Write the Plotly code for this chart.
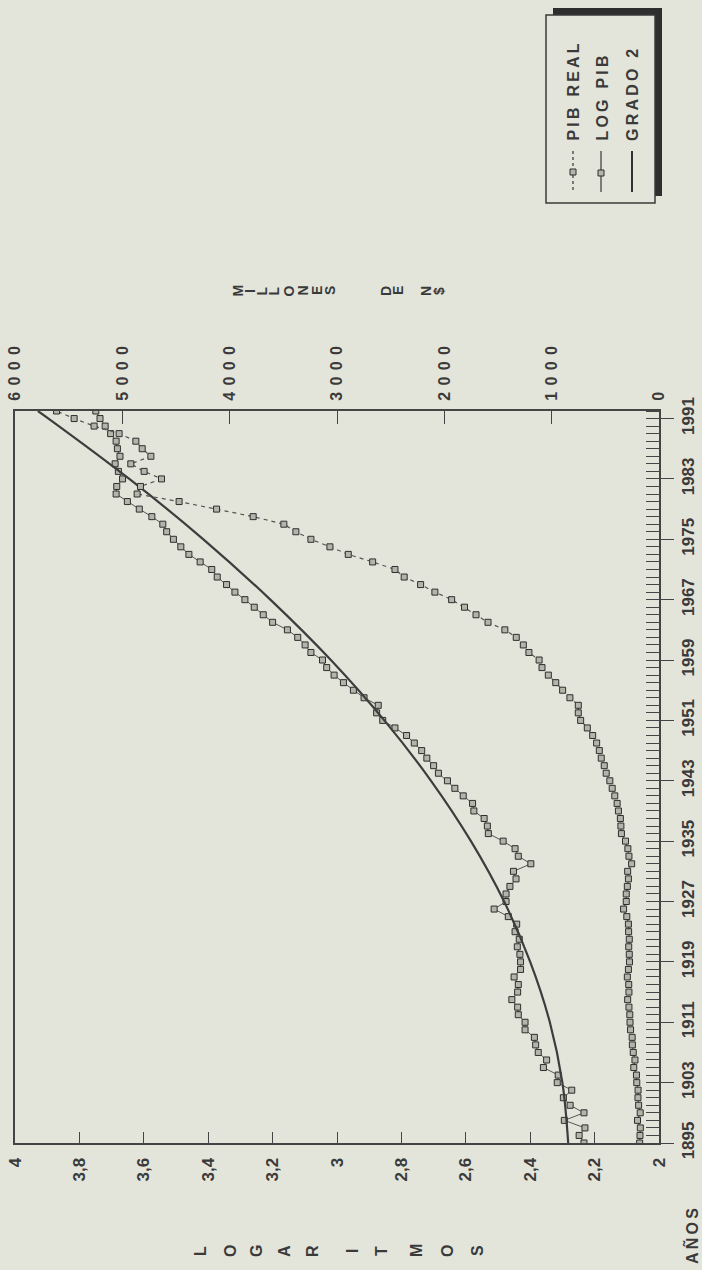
import plotly.graph_objects as go

# ---------------- data ----------------
years = list(range(1895, 1993))

log_pib = [
    2.233, 2.248, 2.230, 2.294, 2.233, 2.276, 2.297, 2.271, 2.316, 2.313,   # 1895-1904
    2.359, 2.349, 2.375, 2.383, 2.387, 2.416, 2.416, 2.437, 2.439, 2.457,   # 1905-1914
    2.439, 2.437, 2.450, 2.430, 2.430, 2.432, 2.440, 2.434, 2.447, 2.442,   # 1915-1924
    2.468, 2.512, 2.475, 2.475, 2.463, 2.444, 2.452, 2.398, 2.437, 2.447,   # 1925-1934
    2.484, 2.530, 2.533, 2.543, 2.575, 2.579, 2.608, 2.634, 2.657, 2.685,   # 1935-1944
    2.700, 2.721, 2.737, 2.760, 2.784, 2.820, 2.858, 2.877, 2.872, 2.916,   # 1945-1954
    2.949, 2.980, 3.009, 3.032, 3.045, 3.081, 3.099, 3.122, 3.154, 3.200,   # 1955-1964
    3.229, 3.257, 3.286, 3.317, 3.343, 3.372, 3.389, 3.425, 3.460, 3.485,   # 1965-1974
    3.508, 3.529, 3.541, 3.575, 3.614, 3.651, 3.686, 3.684, 3.666, 3.679,   # 1975-1984
    3.689, 3.674, 3.682, 3.686, 3.703, 3.720, 3.736, 3.749,                 # 1985-1992
]

pib_real = [
    180, 177, 174, 200, 175, 190, 196, 195, 207, 210,          # 1895-1904
    235, 224, 240, 248, 250, 265, 270, 272, 280, 292,          # 1905-1914
    280, 282, 295, 285, 275, 277, 282, 277, 283, 285,          # 1915-1924
    300, 330, 305, 305, 295, 285, 292, 255, 280, 290,          # 1925-1934
    312, 350, 355, 360, 378, 390, 412, 436, 458, 492,          # 1935-1944
    510, 538, 556, 581, 618, 668, 730, 752, 752, 830,          # 1945-1954
    898, 962, 1031, 1090, 1117, 1212, 1264, 1330, 1436, 1593,  # 1955-1964
    1705, 1812, 1932, 2088, 2221, 2374, 2460, 2668, 2895, 3066,  # 1965-1974
    3243, 3383, 3495, 3781, 4122, 4471, 4862, 4831, 4635, 4797,  # 1975-1984
    4921, 4734, 4815, 4874, 5030, 5263, 5449, 5613,              # 1985-1992
]

grado2_years = [1895, 1903, 1911, 1919, 1927, 1935, 1943, 1951, 1959,
                1967, 1975, 1983, 1991, 1992]
grado2_vals = [2.282, 2.300, 2.339, 2.400, 2.481, 2.584, 2.708, 2.853, 3.019,
               3.207, 3.415, 3.645, 3.896, 3.929]

year_ticks = [1895, 1903, 1911, 1919, 1927, 1935, 1943, 1951, 1959, 1967, 1975, 1983, 1991]
log_ticks = [2, 2.2, 2.4, 2.6, 2.8, 3, 3.2, 3.4, 3.6, 3.8, 4]
log_labels = ["2", "2,2", "2,4", "2,6", "2,8", "3", "3,2", "3,4", "3,6", "3,8", "4"]
mill_ticks = [0, 1000, 2000, 3000, 4000, 5000, 6000]
mill_labels = ["0", "1000", "2000", "3000", "4000", "5000", "6000"]

series_names = ["PIB REAL", "LOG PIB", "GRADO 2"]

# ---------------- style ----------------
W, H = 702, 1270
ML, MR, MT, MB = 15, 43, 411, 127
PW = W - ML - MR
PH = H - MT - MB
BG = "#e4e5da"
INK = "#3a3a3a"
FONT = "Liberation Sans"
THIN = "\u2009"


def spaced(s, n=1):
    return (THIN * n).join(s)


def px(xp):
    return (xp - ML) / PW


def py(yp):
    return (H - MB - yp) / PH


def tf(size):
    return dict(size=size, family=FONT, color=INK, weight="bold")


marker = dict(symbol="square", size=6, color="#b4b4aa", line=dict(color="#2e2e2e", width=1))

fig = go.Figure()

fig.add_trace(go.Scatter(
    x=pib_real, y=years, xaxis="x2", yaxis="y", name=series_names[0],
    mode="lines+markers", line=dict(color="#555555", width=1.2, dash="4px,4px"),
    marker=marker, showlegend=False))

fig.add_trace(go.Scatter(
    x=log_pib, y=years, xaxis="x", yaxis="y", name=series_names[1],
    mode="lines+markers", line=dict(color="#555555", width=1),
    marker=marker, showlegend=False))

fig.add_trace(go.Scatter(
    x=grado2_vals, y=grado2_years, xaxis="x", yaxis="y", name=series_names[2],
    mode="lines", line=dict(color="#3d3d3d", width=2.2, shape="spline", smoothing=1.0),
    showlegend=False))

axis_line = dict(showline=True, linecolor="#444444", linewidth=2, showgrid=False,
                 zeroline=False, automargin=False)

fig.update_layout(
    width=W, height=H,
    margin=dict(l=ML, r=MR, t=MT, b=MB, pad=0, autoexpand=False),
    paper_bgcolor=BG, plot_bgcolor=BG,
    font=dict(family=FONT, color=INK),
    showlegend=False,
    xaxis=dict(
        range=[4, 2], side="bottom", tickmode="array", tickvals=log_ticks,
        ticktext=log_labels, tickangle=-90, ticks="inside", ticklen=11,
        tickcolor="#444444", tickwidth=1.2, ticklabelstandoff=6,
        tickfont=tf(17), **axis_line),
    xaxis2=dict(
        range=[6000, 0], side="top", overlaying="x", tickmode="array",
        tickvals=mill_ticks, ticktext=[spaced(t, 2) for t in mill_labels],
        tickangle=-90, ticks="inside", ticklen=13, tickcolor="#444444", tickwidth=1.2,
        ticklabelstandoff=5,
        tickfont=tf(16), **axis_line),
    yaxis=dict(
        range=[1895, 1992], side="right", tickmode="array", tickvals=year_ticks,
        ticktext=[str(v) for v in year_ticks], tickangle=-90, ticks="outside",
        ticklen=13, tickcolor="#444444", tickwidth=1.2, mirror=True,
        ticklabelstandoff=0,
        tickfont=tf(17),
        minor=dict(tick0=1895, dtick=1, ticks="inside", ticklen=13,
                   tickcolor="#444444", tickwidth=1),
        **axis_line),
)

ann = []
# left-axis title, letters stacked (rotated page)
log_title = "LOGARITMOS"
log_title_x = [200, 230, 256, 284, 312, 352, 381, 416, 447, 477]
for ch, xp in zip(log_title, log_title_x):
    ann.append(dict(text=ch, x=px(xp), y=py(1251), xref="paper", yref="paper",
                    showarrow=False, textangle=-90, xanchor="center", yanchor="middle",
                    font=tf(16)))
# right-axis title
mill_title = "MILLONESDEN$"
mill_title_x = [237.5, 250, 261.5, 273.5, 288.5, 302.5, 317, 330, 386, 398, 426, 439]
for ch, xp in zip(mill_title, mill_title_x):
    ann.append(dict(text=ch, x=px(xp), y=py(291), xref="paper", yref="paper",
                    showarrow=False, textangle=-90, xanchor="center", yanchor="middle",
                    font=tf(14)))
# years title
ann.append(dict(text=spaced("AÑOS"), x=px(691), y=py(1236), xref="paper", yref="paper",
                showarrow=False, textangle=-90, xanchor="center", yanchor="middle",
                font=tf(16)))

# legend (drawn by hand because the whole page is rotated)
shapes = []
shapes.append(dict(type="rect", xref="paper", yref="paper",
                   x0=px(553), x1=px(662), y0=py(196), y1=py(8),
                   fillcolor="#2e2e2e", line=dict(width=0)))
shapes.append(dict(type="rect", xref="paper", yref="paper",
                   x0=px(546), x1=px(655), y0=py(203), y1=py(15),
                   fillcolor=BG, line=dict(color="#3a3a3a", width=1.5)))
leg_x = [573, 602, 632]
for name, xp in zip(series_names, leg_x):
    ann.append(dict(text=spaced(name), x=px(xp), y=py(143), xref="paper", yref="paper",
                    showarrow=False, textangle=-90, xanchor="center", yanchor="bottom",
                    font=tf(16)))
# legend samples
shapes.append(dict(type="line", xref="paper", yref="paper", x0=px(573), x1=px(573),
                   y0=py(151), y1=py(192), line=dict(color="#555555", width=1.5, dash="dot")))
shapes.append(dict(type="rect", xref="paper", yref="paper", x0=px(570), x1=px(576),
                   y0=py(175), y1=py(169), fillcolor="#b4b4aa",
                   line=dict(color="#2e2e2e", width=1)))
shapes.append(dict(type="line", xref="paper", yref="paper", x0=px(601), x1=px(601),
                   y0=py(151), y1=py(192), line=dict(color="#444444", width=1.3)))
shapes.append(dict(type="rect", xref="paper", yref="paper", x0=px(598), x1=px(604),
                   y0=py(176), y1=py(170), fillcolor="#b4b4aa",
                   line=dict(color="#2e2e2e", width=1)))
shapes.append(dict(type="line", xref="paper", yref="paper", x0=px(632), x1=px(632),
                   y0=py(151), y1=py(192), line=dict(color="#333333", width=2)))

fig.update_layout(annotations=ann, shapes=shapes)

fig.write_html(
    "out.html",
    config={"displayModeBar": False},
    post_script="document.body.style.margin='0';document.body.style.overflow='hidden';",
)
